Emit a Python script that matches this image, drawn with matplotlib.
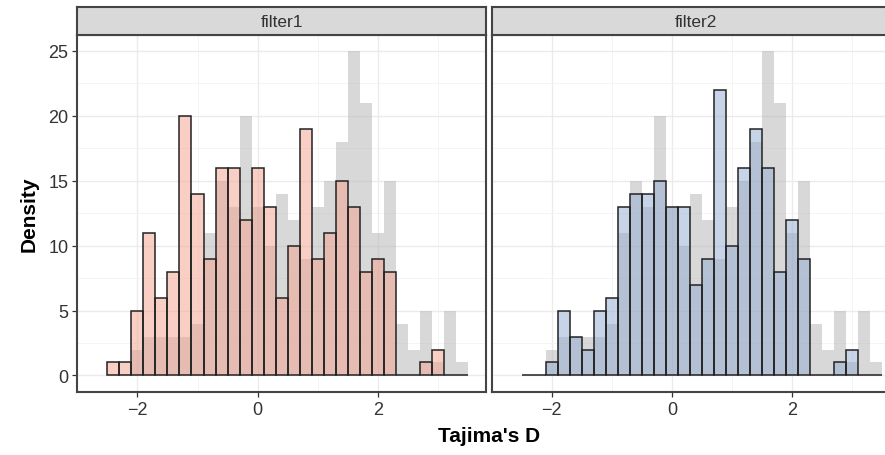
import numpy as np
import matplotlib
matplotlib.use("Agg")
import matplotlib.pyplot as plt

plt.rcParams['font.family'] = ['Liberation Sans', 'DejaVu Sans']

# histogram bins: 30 bins of width 0.2 starting at -2.5
bin_start = -2.5
bin_width = 0.2

# background histogram (grey), same in both facets
all_counts = [0, 0, 2, 3, 3, 3, 3, 4, 11, 15, 13, 20, 13, 10, 14,
              12, 9, 13, 15, 18, 25, 21, 11, 15, 4, 2, 5, 1, 5, 1]

panels = ['filter1', 'filter2']
filter1_counts = [1, 1, 5, 11, 6, 8, 20, 14, 9, 16, 16, 12, 16, 13, 6,
                  10, 19, 9, 11, 15, 13, 8, 9, 8, 0, 0, 1, 2, 0, 0]
filter2_counts = [0, 0, 1, 5, 3, 2, 5, 6, 13, 14, 14, 15, 13, 13, 7,
                  9, 22, 10, 16, 19, 16, 8, 12, 9, 0, 0, 1, 2, 0, 0]
panel_colors = ['#F5A18D', '#91A9D1']

x_ticks = [-2, 0, 2]
x_minor = [-3, -1, 1, 3]
y_ticks = [0, 5, 10, 15, 20, 25]
y_minor = [2.5, 7.5, 12.5, 17.5, 22.5]

W, H = 885, 456
fig = plt.figure(figsize=(W / 100, H / 100), dpi=100)

dark = '#333333'
grid_c = '#EBEBEB'

lefts = bin_start + bin_width * np.arange(len(all_counts))

panel_left_px = [77.3, 491.7]
panel_w_px = 408.7
top_px, bottom_px = 35.7, 392.7
strip_top_px = 8.3

for i, (name, counts) in enumerate(zip(panels, [filter1_counts, filter2_counts])):
    l = panel_left_px[i] / W
    ax = fig.add_axes([l, 1 - bottom_px / H, panel_w_px / W, (bottom_px - top_px) / H])
    ax.set_axisbelow(True)
    ax.bar(lefts, all_counts, width=bin_width, align='edge',
           color='#B3B3B3', alpha=0.5, linewidth=0, zorder=2)
    ax.bar(lefts, counts, width=bin_width, align='edge',
           color=panel_colors[i], alpha=0.5, edgecolor='none', zorder=3)
    ax.bar(lefts, counts, width=bin_width, align='edge',
           fill=False, edgecolor='#222222', linewidth=1.1, zorder=4)

    ax.set_xlim(-2.8, 3.8)
    ax.set_ylim(-1.25, 26.25)
    ax.set_xticks(x_ticks)
    ax.set_xticklabels(['\u22122', '0', '2'])
    ax.set_xticks(x_minor, minor=True)
    ax.set_yticks(y_ticks)
    ax.set_yticks(y_minor, minor=True)
    ax.grid(True, which='major', color=grid_c, linewidth=1.0)
    ax.grid(True, which='minor', color='#F3F3F3', linewidth=0.6)
    ax.tick_params(axis='both', which='minor', length=0)
    ax.tick_params(axis='both', which='major', length=3.5, width=0.9, color=dark,
                   labelsize=13, labelcolor='#333333', pad=3)
    if i == 0:
        ax.set_ylabel('Density', fontsize=15, fontweight='bold', labelpad=7)
    else:
        ax.tick_params(axis='y', which='both', left=False, labelleft=False)
    for sp in ax.spines.values():
        sp.set_color('#444444')
        sp.set_linewidth(1.5)

    sax = fig.add_axes([l, 1 - top_px / H, panel_w_px / W, (top_px - strip_top_px) / H])
    sax.set_facecolor('#D9D9D9')
    sax.set_xticks([])
    sax.set_yticks([])
    for sp in sax.spines.values():
        sp.set_color('#444444')
        sp.set_linewidth(1.5)
    sax.text(0.5, 0.48, name, transform=sax.transAxes, ha='center', va='center',
             fontsize=12.5, color='#333333')

fig.text((panel_left_px[0] + panel_left_px[1] + panel_w_px) / 2 / W, 1 - 437 / H,
         "Tajima's D", ha='center', va='center', fontsize=15, fontweight='bold')

fig.savefig('out.png', dpi=100)
